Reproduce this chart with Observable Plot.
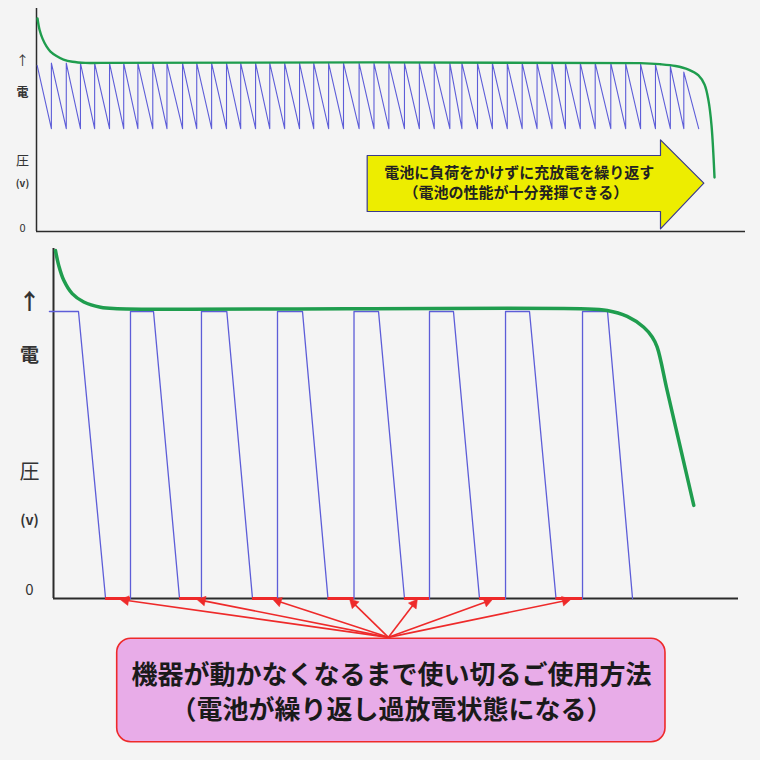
<!DOCTYPE html>
<html><head><meta charset="utf-8">
<script src="https://cdn.jsdelivr.net/npm/d3@7"></script>
<script src="https://cdn.jsdelivr.net/npm/@observablehq/plot@0.6"></script>
<style>
html,body{margin:0;padding:0;background:#f4f4f4;}
#chart{position:relative;width:760px;height:760px;overflow:hidden;font-family:"Noto Sans CJK JP","Noto Sans",sans-serif;}
#chart svg{display:block;}
</style></head><body><div id="chart"></div>
<script>
// ---------- TOP PANEL (x: time 0-100, y: relative voltage 0-100) ----------
const topCyclePeaksX = [2.1,4.2,6.2,8.2,10.3,12.3,14.3,16.4,18.4,20.6,22.6,24.7,26.8,28.8,30.9,32.9,35.0,37.1,39.1,41.2,43.3,45.5,47.6,49.7,51.9,54.0,56.1,58.3,60.0,62.2,64.3,66.4,68.5,70.6,72.7,74.6,76.7,78.8,81.0,83.1,85.2,87.3,89.4,91.3];
const topCyclePeaksV = [75.5,75.5,75.5,75.5,75.5,75.5,75.5,75.5,75.5,75.5,75.5,75.5,75.5,75.5,75.5,75.5,75.5,75.5,75.5,75.5,75.5,75.5,75.5,75.5,75.5,75.5,75.5,75.5,75.5,75.5,75.5,75.5,75.5,75.5,75.5,75.5,75.5,75.5,75.5,75.3,75.1,74.8,74.0,71.5];
const topCycleStart = [0.1, 74.4];
const topCycleEndX = 93.4;
const topTroughV = 46.1;
const topNoLoadX = [0.14,0.42,0.85,1.41,1.97,2.82,3.81,5.08,6.91,9.03,85.19,88.01,90.13,91.96,93.37,94.22,94.78,95.21,95.63];
const topNoLoadV = [95.5,90.6,86.5,83.0,80.7,78.7,77.1,76.1,75.6,75.6,75.5,75.0,74.2,72.6,70.0,65.9,58.7,47.5,24.2];
const topAxisLabels = ["↑","電","圧","(v)","0"];
const topAxisLabelV = [76.7,61.9,31.8,21.5,1.3];
const topAxisLabelSize = [13,12,13,10,11];
const topAxisLabelWeight = ["normal","bold","normal","bold","normal"];
const topArrowX = [46.64,88.01,88.01,94.12,88.01,88.01,46.64,46.64];
const topArrowV = [34.08,34.08,41.12,21.66,1.21,8.97,8.97,34.08];
const topArrowText = ["電池に負荷をかけずに充放電を繰り返す","（電池の性能が十分発揮できる）"];
const topArrowTextX = [68.1,67.6];
const topArrowTextV = [26.0,17.0];

// ---------- BOTTOM PANEL ----------
const botUseX = [-0.6,3.65,7.6,11.24,11.24,14.6,18.4,21.6,21.6,25.3,29.05,32.7,32.7,36.35,40.07,43.87,43.87,47.45,51.24,54.89,54.89,58.39,62.19,65.99,65.99,69.49,73.36,77.23,77.23,80.88,84.53];
const botUseV = [82,82,0,0,82,82,0,0,82,82,0,0,82,82,0,0,82,82,0,0,82,82,0,0,82,82,0,0,82,82,0];
const botNoLoadX = [0.29,0.77,1.50,2.73,4.42,6.86,9.30,76.93,80.83,83.75,86.17,87.40,88.13,89.59,91.53,93.47];
const botNoLoadV = [99.4,95.1,90.9,87.1,84.7,83.2,82.8,82.8,82.3,80.6,77.5,74.7,71.8,59.4,43.0,26.6];
const overDischargeStart = [7.6,18.4,29.05,40.07,51.24,62.19,73.36];
const overDischargeEnd = [11.24,21.6,32.7,43.87,54.89,65.99,77.23];
const calloutTipsX = [9.78,20.98,32.07,43.26,53.09,64.04,75.47];
const calloutTipV = -0.3;
const calloutOrigin = [48.9,-11.1];
const botAxisLabels = ["↑","電","圧","(v)","0"];
const botAxisLabelV = [84.7,69.4,36.1,22.3,2.3];
const botAxisLabelSize = [22,19,20,14,15];
const botAxisLabelWeight = ["bold","bold","normal","bold","normal"];
const boxX = [9.3,89.34];
const boxV = [-11.51,-41.06];
const boxText = ["機器が動かなくなるまで使い切るご使用方法","（電池が繰り返し過放電状態になる）"];
const boxTextX = [49.34,49.34];
const boxTextV = [-22.0,-32.0];

const FONT = '"Noto Sans CJK JP","Noto Sans",sans-serif';
const GREEN = "#1f9d4e", BLUE = "#5d5dd8", RED = "#ee2a2a", AXIS = "#2b2b2b";

// layout
const W = 760;
const TOP = {h: 240, ml: 36, mr: 15, mt: 8, mb: 9};
const BOT = {h: 520, ml: 53, mr: 22, mt: 8, mb: 162};
const kx = (W - BOT.ml - BOT.mr) / 100;      // px per x unit (bottom)
const ky = (BOT.h - BOT.mt - BOT.mb) / 100;  // px per y unit (bottom)

// build tables
const topSaw = [{x: topCycleStart[0], v: topCycleStart[1]}];
topCyclePeaksX.forEach((px, i) => { topSaw.push({x: px, v: topTroughV}); topSaw.push({x: px, v: topCyclePeaksV[i]}); });
topSaw.push({x: topCycleEndX, v: topTroughV});
const topGreen = topNoLoadX.map((x, i) => ({x, v: topNoLoadV[i]}));
const topLabels = topAxisLabels.map((t, i) => ({t, v: topAxisLabelV[i], s: topAxisLabelSize[i], w: topAxisLabelWeight[i]}));
const topArrow = topArrowX.map((x, i) => ({x, v: topArrowV[i]}));
const topTexts = topArrowText.map((t, i) => ({t, x: topArrowTextX[i], v: topArrowTextV[i]}));

const botBlue = botUseX.map((x, i) => ({x, v: botUseV[i]}));
const botGreen = botNoLoadX.map((x, i) => ({x, v: botNoLoadV[i]}));
const redSegs = overDischargeStart.map((a, i) => ({a, b: overDischargeEnd[i]}));
const HEAD = 8.5; // arrowhead length in px
const callouts = calloutTipsX.map(x => {
  const dxp = (x - calloutOrigin[0]) * kx, dyp = -(calloutTipV - calloutOrigin[1]) * ky;
  const len = Math.hypot(dxp, dyp), ux = dxp / len, uy = dyp / len;
  const back = HEAD * 0.62;
  return {
    x1: calloutOrigin[0], y1: calloutOrigin[1],
    x2: x - ux * HEAD * 0.8 / kx, y2: calloutTipV + uy * HEAD * 0.8 / ky,
    hx: x - ux * back / kx, hy: calloutTipV + uy * back / ky,
    rot: Math.atan2(dxp, -dyp) * 180 / Math.PI
  };
});
const botLabels = botAxisLabels.map((t, i) => ({t, v: botAxisLabelV[i], s: botAxisLabelSize[i], w: botAxisLabelWeight[i]}));
const boxTexts = boxText.map((t, i) => ({t, x: boxTextX[i], v: boxTextV[i]}));

function labelMarks(rows, dx) {
  return ["normal", "bold"].map(w =>
    Plot.text(rows.filter(d => d.w === w), {y: "v", text: "t", frameAnchor: "left", dx, textAnchor: "middle", fontSize: d => d.s, fontWeight: w, fill: "#333"})
  );
}

const topPlot = Plot.plot({
  width: W, height: TOP.h,
  marginLeft: TOP.ml, marginRight: TOP.mr, marginTop: TOP.mt, marginBottom: TOP.mb,
  x: {domain: [0, 100], axis: null},
  y: {domain: [0, 100], axis: null},
  style: {background: "#f4f4f4", fontFamily: FONT, overflow: "visible"},
  marks: [
    Plot.ruleX([0], {y1: 0, y2: 100, stroke: AXIS, strokeWidth: 1.5}),
    Plot.ruleY([0], {x1: 0, x2: 100, stroke: AXIS, strokeWidth: 1.5}),
    Plot.line(topSaw, {x: "x", y: "v", stroke: BLUE, strokeWidth: 1.1}),
    Plot.line(topGreen, {x: "x", y: "v", stroke: GREEN, strokeWidth: 2.4, curve: "catmull-rom"}),
    Plot.line(topArrow, {x: "x", y: "v", fill: "#eded00", stroke: "#3a3a8c", strokeWidth: 1.2}),
    Plot.text(topTexts, {x: "x", y: "v", text: "t", fontSize: 15, fontWeight: "bold", fill: "#222"}),
    ...labelMarks(topLabels, -14)
  ]
});

const botPlot = Plot.plot({
  width: W, height: BOT.h,
  marginLeft: BOT.ml, marginRight: BOT.mr, marginTop: BOT.mt, marginBottom: BOT.mb,
  x: {domain: [0, 100], axis: null},
  y: {domain: [0, 100], axis: null},
  style: {background: "#f4f4f4", fontFamily: FONT, overflow: "visible"},
  marks: [
    Plot.ruleX([0], {y1: 0, y2: 100, stroke: AXIS, strokeWidth: 2}),
    Plot.ruleY([0], {x1: 0, x2: 100, stroke: AXIS, strokeWidth: 2}),
    Plot.line(botBlue, {x: "x", y: "v", stroke: BLUE, strokeWidth: 1.3}),
    Plot.ruleY(redSegs, {y: 0, x1: "a", x2: "b", stroke: RED, strokeWidth: 3}),
    Plot.line(botGreen, {x: "x", y: "v", stroke: GREEN, strokeWidth: 3.5, curve: "catmull-rom"}),
    Plot.link(callouts, {x1: "x1", y1: "y1", x2: "x2", y2: "y2", stroke: RED, strokeWidth: 1.6}),
    Plot.dot(callouts, {x: "hx", y: "hy", rotate: "rot", symbol: "triangle", r: 3.6, fill: RED, stroke: RED, strokeWidth: 0.5}),
    Plot.rect([0], {x1: boxX[0], x2: boxX[1], y1: boxV[0], y2: boxV[1], rx: 14, fill: "#e8ace8", stroke: RED, strokeWidth: 1.6}),
    Plot.text(boxTexts, {x: "x", y: "v", text: "t", fontSize: 26, fontWeight: 600, fill: "#1a1a1a"}),
    ...labelMarks(botLabels, -24)
  ]
});

const chart = document.getElementById("chart");
chart.appendChild(topPlot);
chart.appendChild(botPlot);
</script></body></html>
